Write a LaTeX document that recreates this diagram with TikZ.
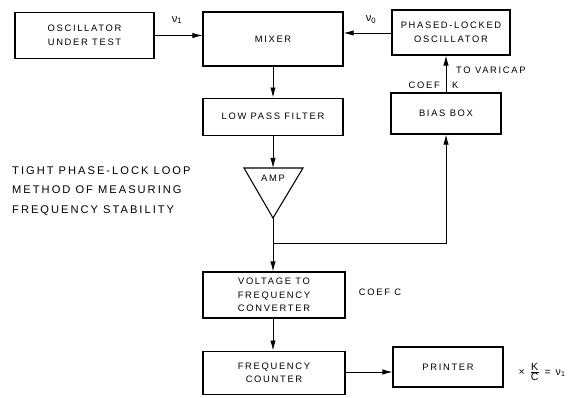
\documentclass[tikz,border=0pt]{standalone}
\usepackage{fontspec}
\setmainfont{Liberation Sans}
\newfontfamily\lettering[LetterSpace=18]{Liberation Sans}
\usetikzlibrary{arrows.meta,positioning}

\begin{document}
\begin{tikzpicture}[
      x=0.03cm, y=-0.03cm,
      box/.style={draw, line width=0.9pt, align=center, inner sep=0pt,
                  font=\lettering\fontsize{8}{11.5}\selectfont},
      lbl/.style={font=\lettering\fontsize{8}{10}\selectfont, inner sep=0pt},
      arrow/.style={-{Latex[length=3mm,width=1.6mm]}, line width=0.7pt},
      wire/.style={line width=0.7pt}
    ]
      \useasboundingbox (0,0) rectangle (577,398);
      % top row
      \node[box, minimum width=4.17cm, minimum height=1.38cm] (osc) at (84.5,35.5) {OSCILLATOR\\UNDER TEST};
      \node[box, minimum width=4.2cm, minimum height=1.62cm] (mixer) at (273,39) {MIXER};
      \node[box, minimum width=3.54cm, minimum height=1.35cm] (pll) at (451,32.5) {PHASED-LOCKED\\OSCILLATOR};
      % second row
      \node[box, minimum width=4.2cm, minimum height=1.11cm] (lpf) [below=0.93cm of mixer] {LOW PASS FILTER};
      \node[box, minimum width=3.3cm, minimum height=1.23cm] (bias) at (446,113.5) {BIAS BOX};
      % amplifier
      \coordinate (amp in) at (273,168);
      \coordinate (amp out) at (273,218);
      \draw[line width=0.9pt] (244,168) -- (303,168) -- (amp out) -- cycle;
      \node[lbl] (amp) at (273,178) {AMP};
      \coordinate (tap) at (273,243);
      % lower column
      \node[box, minimum width=4.26cm, minimum height=1.38cm] (vtf) at (274,295) {VOLTAGE TO\\FREQUENCY\\CONVERTER};
      \node[box, minimum width=4.26cm, minimum height=1.29cm] (fc) [below=0.96cm of vtf] {FREQUENCY\\COUNTER};
      \node[box, minimum width=3.3cm, minimum height=1.2cm] (printer) at (448,367) {PRINTER};
      % title
      \node[anchor=north west, align=left, inner sep=0pt,
            font=\lettering\fontsize{9.5}{17}\selectfont] (title) at (12,166)
            {TIGHT PHASE-LOCK LOOP\\METHOD OF MEASURING\\FREQUENCY STABILITY};
      % labels
      \node[lbl, font=\lettering\fontsize{9.5}{10}\selectfont] (v1) at (177,20) {ν\textsubscript{1}};
      \node[lbl, font=\lettering\fontsize{9.5}{10}\selectfont] (v0) at (371,20) {ν\textsubscript{0}};
      \node[lbl, anchor=west] (varicap) at (456,70) {TO VARICAP};
      \node[lbl, anchor=east] (coefk) at (440,85) {COEF};
      \node[lbl, anchor=west] (k) at (452,85) {K};
      \node[lbl] (coefc) at (380,292) {COEF C};
      \node[lbl, font=\lettering\fontsize{9}{9}\selectfont] (result) at (542,372)
            {× $\frac{\mbox{K}}{\mbox{C}}$ = ν\textsubscript{1}};
      % connectors
      \draw[arrow] (osc.east) -- (osc.east -| mixer.west);
      \draw[arrow] (pll.west |- 0,33) -- (mixer.east |- 0,33);
      \draw[arrow] (mixer) -- (lpf);
      \draw[arrow] (lpf.south) -- (amp in);
      \draw[wire] (amp out) -- (tap);
      \draw[arrow] (tap) -| (bias.south);
      \draw[arrow] (bias.north) -- (bias.north |- pll.south);
      \draw[arrow] (tap) -- (vtf.north -| tap);
      \draw[arrow] (vtf.south -| tap) -- (fc.north -| tap);
      \draw[arrow] (fc.east |- 0,372) -- (printer.west |- 0,372);
    \end{tikzpicture}
\end{document}
